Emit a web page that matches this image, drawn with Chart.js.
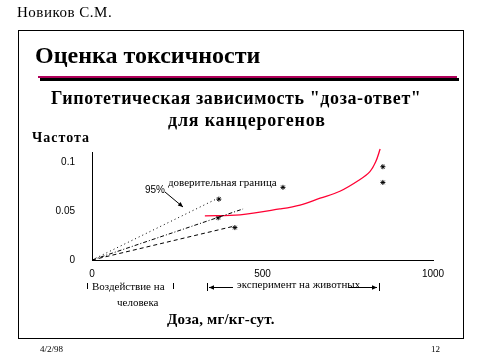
<!DOCTYPE html>
<html>
<head>
<meta charset="utf-8">
<script src="https://cdn.jsdelivr.net/npm/chart.js@4/dist/chart.umd.min.js"></script>
<style>
  html, body { margin:0; padding:0; background:#fff; }
  #wrap { position:relative; width:480px; height:360px; overflow:hidden; }
  canvas { position:absolute; left:0; top:0; }
  .t { position:absolute; white-space:nowrap; line-height:1; color:#000; font-family:"Liberation Serif","Times New Roman",serif; }
  .b { font-weight:bold; }
  .s { font-family:"Liberation Sans",Arial,sans-serif; }
</style>
</head>
<body>
<div id="wrap">
  <canvas id="c" width="480" height="360"></canvas>
  <div style="position:absolute;left:18px;top:30px;width:446px;height:309px;border:1px solid #000;box-sizing:border-box;"></div>
  <div style="position:absolute;left:38px;top:76px;width:419px;height:2px;background:#b0005a;"></div>
  <div style="position:absolute;left:40px;top:78px;width:419px;height:3px;background:#000;"></div>

  <div class="t" style="left:17px;top:5px;font-size:15px;letter-spacing:0.5px;">Новиков С.М.</div>
  <div class="t b" style="left:35px;top:43px;font-size:24px;">Оценка токсичности</div>
  <div class="t b" style="left:51px;top:89px;font-size:18px;letter-spacing:0.6px;">Гипотетическая зависимость "доза-ответ"</div>
  <div class="t b" style="left:168px;top:111px;font-size:18px;letter-spacing:0.8px;">для канцерогенов</div>
  <div class="t b" style="left:32px;top:131px;font-size:14px;letter-spacing:1px;">Частота</div>

  <div class="t s" style="left:145px;top:185px;font-size:10px;">95%</div>
  <div class="t" style="left:168px;top:177px;font-size:11px;">доверительная граница</div>

  <div class="t" style="left:92px;top:281px;font-size:11px;">Воздействие на</div>
  <div class="t" style="left:117px;top:297px;font-size:11px;">человека</div>
  <div class="t" style="left:237px;top:279px;font-size:11px;">эксперимент на животных</div>
  <div class="t b" style="left:167px;top:312px;font-size:15px;letter-spacing:0.2px;">Доза, мг/кг-сут.</div>

  <div class="t" style="left:40px;top:345px;font-size:9px;">4/2/98</div>
  <div class="t" style="left:431px;top:345px;font-size:9px;">12</div>
</div>
<script>
// ---- data ----
const doseTicks = [0, 500, 1000];
const freqTicks = [0, 0.05, 0.1];

const upperLineDose = [0, 364];
const upperLineFreq = [0, 0.062];
const middleLineDose = [0, 443];
const middleLineFreq = [0, 0.052];
const lowerLineDose = [0, 411];
const lowerLineFreq = [0, 0.034];

const curveDose = [331, 434, 551, 610, 669, 727, 786, 815, 832, 845];
const curveFreq = [0.045, 0.046, 0.052, 0.056, 0.063, 0.070, 0.082, 0.090, 0.100, 0.113];

const starDose = [372, 370, 419, 560, 853, 853];
const starFreq = [0.062, 0.043, 0.033, 0.074, 0.095, 0.079];

// ---- build ----
const pts = (xs, ys) => xs.map((x, i) => ({ x: x, y: ys[i] }));
const tickFont = { family: '"Liberation Sans",Arial,sans-serif', size: 10 };

function arrow(c, x1, y1, x2, y2) {
  c.beginPath(); c.moveTo(x1, y1); c.lineTo(x2, y2); c.stroke();
  const a = Math.atan2(y2 - y1, x2 - x1), L = 5, W = 2.2;
  c.beginPath();
  c.moveTo(x2, y2);
  c.lineTo(x2 - L * Math.cos(a) + W * Math.sin(a), y2 - L * Math.sin(a) - W * Math.cos(a));
  c.lineTo(x2 - L * Math.cos(a) - W * Math.sin(a), y2 - L * Math.sin(a) + W * Math.cos(a));
  c.closePath(); c.fill();
}
function seg(c, x1, y1, x2, y2) { c.beginPath(); c.moveTo(x1, y1); c.lineTo(x2, y2); c.stroke(); }

const notes = {
  id: 'notes',
  afterDatasetsDraw(chart) {
    const c = chart.ctx;
    c.save();
    c.strokeStyle = '#000'; c.fillStyle = '#000'; c.lineWidth = 1;
    arrow(c, 165, 192, 183, 207);
    seg(c, 87.5, 283, 87.5, 289);
    seg(c, 173.5, 283, 173.5, 289);
    seg(c, 207.5, 283, 207.5, 291);
    seg(c, 379.5, 283, 379.5, 291);
    arrow(c, 233, 287.5, 209, 287.5);
    arrow(c, 348, 287.5, 377, 287.5);
    c.restore();
  }
};

new Chart(document.getElementById('c'), {
  type: 'line',
  data: {
    datasets: [
      { data: pts(upperLineDose, upperLineFreq), borderColor: '#000', borderWidth: 1, borderDash: [1, 3], pointRadius: 0, fill: false },
      { data: pts(middleLineDose, middleLineFreq), borderColor: '#000', borderWidth: 1, borderDash: [4, 2, 1, 2], pointRadius: 0, fill: false },
      { data: pts(lowerLineDose, lowerLineFreq), borderColor: '#000', borderWidth: 1, borderDash: [4, 3], pointRadius: 0, fill: false },
      { data: pts(curveDose, curveFreq), borderColor: '#ff0033', borderWidth: 1.3, pointRadius: 0, tension: 0.35, fill: false, clip: false },
      { data: pts(starDose, starFreq), showLine: false, pointStyle: 'star', pointRadius: 2.5, borderColor: '#000', borderWidth: 1, backgroundColor: '#000' }
    ]
  },
  options: {
    responsive: false,
    animation: false,
    events: [],
    layout: { padding: { left: 0, right: 47, top: 152, bottom: 0 } },
    plugins: { legend: { display: false }, tooltip: { enabled: false } },
    scales: {
      x: {
        type: 'linear', min: 0, max: 1000,
        afterBuildTicks: s => { s.ticks = doseTicks.map(v => ({ value: v })); },
        afterFit: s => { s.height = 100; },
        grid: { display: false, drawTicks: false },
        border: { display: true, color: '#000', width: 1 },
        ticks: { padding: 8, font: tickFont, color: '#000', maxRotation: 0, callback: v => String(v) }
      },
      y: {
        type: 'linear', min: 0, max: 0.110,
        afterBuildTicks: s => { s.ticks = freqTicks.map(v => ({ value: v })); },
        afterFit: s => { s.width = 92; },
        grid: { display: false, drawTicks: false },
        border: { display: true, color: '#000', width: 1 },
        ticks: { padding: 17, font: tickFont, color: '#000', callback: v => String(v) }
      }
    }
  },
  plugins: [notes]
});
</script>
</body>
</html>
